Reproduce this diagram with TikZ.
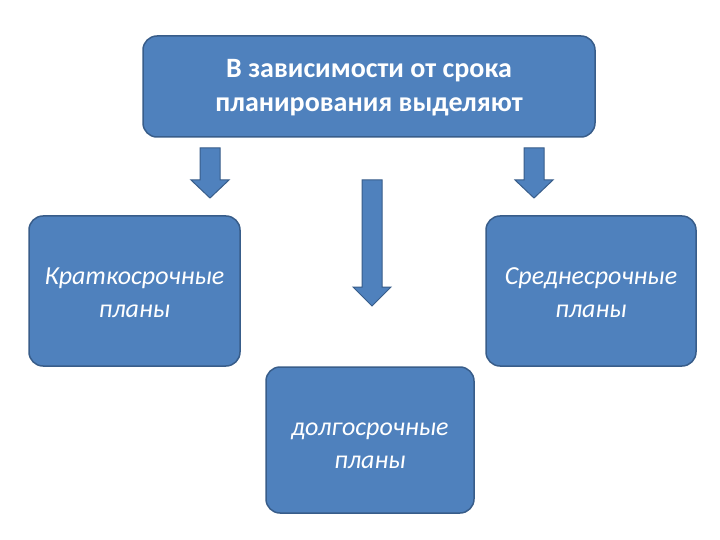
\documentclass[tikz,border=0pt]{standalone}
\usepackage{fontspec}
\setmainfont{Carlito}
\definecolor{boxblue}{HTML}{4F81BD}
\definecolor{boxedge}{HTML}{385D8A}
\tikzset{
  bluebox/.style={draw=boxedge, line width=1.5pt, fill=boxblue, rounded corners=14pt},
  boxtext/.style={text=white, align=center, font=\fontsize{26}{33}\selectfont\itshape},
  toptext/.style={text=white, align=center, font=\fontsize{28}{34}\selectfont\bfseries},
  blockarrow/.style={draw=boxedge, line width=1pt, fill=boxblue, line join=miter}
}
% \downblock{cx}{top}{headstart}{tip}{halfshaft}{halfhead}
\newcommand\downblock[6]{%
  \draw[blockarrow] (#1-#5,#2) -- (#1+#5,#2) -- (#1+#5,#3) -- (#1+#6,#3) -- (#1,#4)
    -- (#1-#6,#3) -- (#1-#5,#3) -- cycle;}
\begin{document}
\begin{tikzpicture}[x=1pt,y=-1pt]
\useasboundingbox (0,0) rectangle (720,540);
\fill[white] (0,0) rectangle (720,540);
% boxes
\draw[bluebox] (143,36) rectangle (595,137);
\node[toptext] (top) at (369,88) {В зависимости от срока\\планирования выделяют};
\draw[bluebox] (29,216) rectangle (240,366);
\node[boxtext] (short) at (134.5,293) {Краткосрочные\\планы};
\draw[bluebox] (486,216) rectangle (696,366);
\node[boxtext] (mid) at (591,293) {Среднесрочные\\планы};
\draw[bluebox] (266,367) rectangle (474,513);
\node[boxtext] (long) at (370,446) {долгосрочные\\планы};
% block arrows
\downblock{210}{148}{180}{198}{10}{19}
\downblock{372}{180}{287}{306}{10}{19}
\downblock{534}{148}{180}{198}{10}{19}
\end{tikzpicture}
\end{document}
